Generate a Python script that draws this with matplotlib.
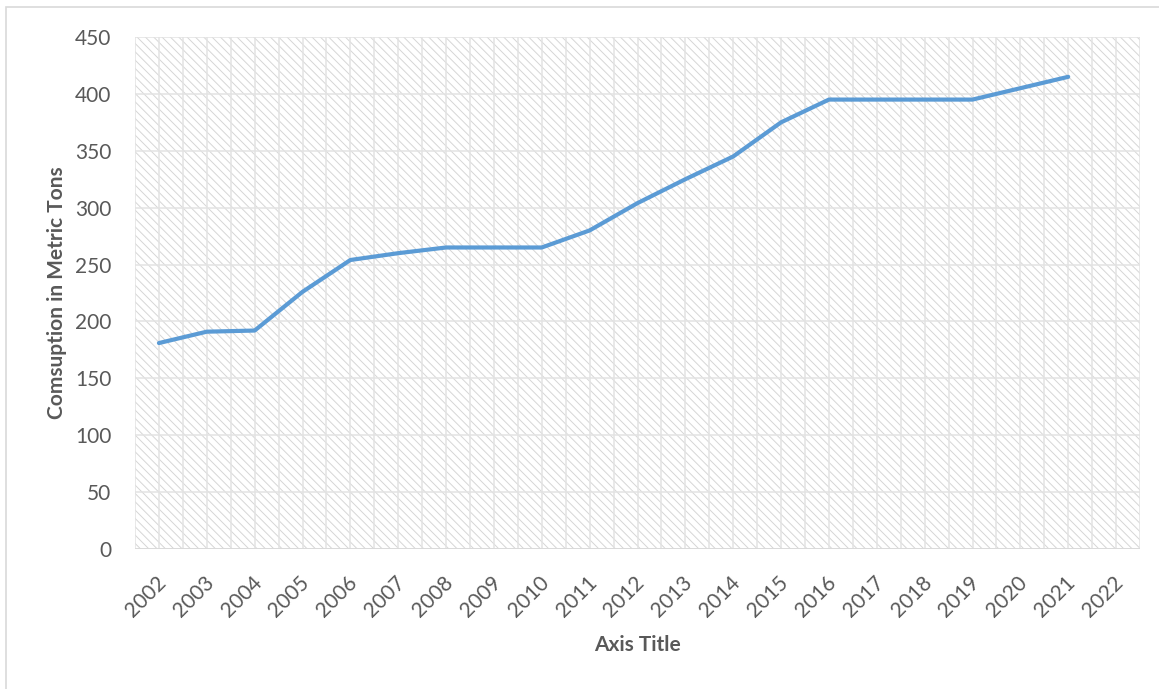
import matplotlib
matplotlib.use("Agg")
import matplotlib.pyplot as plt
from matplotlib.patches import Rectangle
from matplotlib.transforms import ScaledTranslation

# Annual consumption series
years = [str(y) for y in range(2002, 2023)]
consumption = [181, 191, 192, 226, 254, 260, 265, 265, 265, 280, 304,
               325, 345, 375, 395, 395, 395, 395, 405, 415, None]
y_ticks = [0, 50, 100, 150, 200, 250, 300, 350, 400, 450]

x_title = "Axis Title"
y_title = "Comsuption in Metric Tons"

plt.rcParams["font.family"] = ["Lato", "DejaVu Sans"]
plt.rcParams["hatch.color"] = "#d6d6d6"
plt.rcParams["hatch.linewidth"] = 0.7

W, H = 1159, 689
fig = plt.figure(figsize=(W / 100, H / 100), dpi=100)
fig.patch.set_facecolor("white")

# Light frame around the chart area (left and top edges visible)
fig.add_artist(Rectangle((6 / W, -0.5), 2.0, 1.5 - 7 / H,
                         transform=fig.transFigure, fill=False,
                         edgecolor="#d9d9d9", linewidth=1.2))

ax = fig.add_axes([135 / W, 1 - 549 / H, (1140 - 135) / W, (549 - 37) / H])
ax.set_facecolor("white")

# Diagonal hatched plot background
ax.add_patch(Rectangle((0, 0), 1, 1, transform=ax.transAxes,
                       facecolor="white", edgecolor="#d6d6d6",
                       hatch="\\\\\\\\", linewidth=0, zorder=0))

n = len(years)
xs = list(range(n))
ax.set_xlim(-0.5, n - 0.5)
ax.set_ylim(0, 450)

# Gridlines at each category and each category boundary
for i in range(2 * n + 1):
    gx = -0.5 + i * 0.5
    ax.axvline(gx, color="#e3e3e3", linewidth=1.1, zorder=1)
for v in y_ticks:
    ax.axhline(v, color="#e3e3e3", linewidth=1.1, zorder=1)

px = [x for x, v in zip(xs, consumption) if v is not None]
py = [v for v in consumption if v is not None]
ax.plot(px, py, color="#5B9BD5", linewidth=3.0, solid_capstyle="round",
        solid_joinstyle="round", zorder=3)

ax.axhline(0, color="#d9d9d9", linewidth=1.3, zorder=2)

for s in ax.spines.values():
    s.set_visible(False)

ax.set_yticks(y_ticks)
ax.set_yticklabels([str(v) for v in y_ticks])
ax.set_xticks(xs)
ax.set_xticklabels(years, rotation=45, ha="right", va="center",
                   rotation_mode="anchor")
ax.tick_params(axis="both", length=0, labelsize=15, labelcolor="#595959")
ax.tick_params(axis="y", pad=17)
ax.tick_params(axis="x", pad=22)
shift = ScaledTranslation(4 / 100, 0, fig.dpi_scale_trans)
for lbl in ax.get_xticklabels():
    lbl.set_transform(lbl.get_transform() + shift)

fig.text((135 + 1140) / 2 / W, 1 - 645 / H, x_title, ha="center",
         va="center", fontsize=15, fontweight="bold", color="#595959")
fig.text(57 / W, 1 - 293 / H, y_title, ha="center", va="center",
         rotation=90, fontsize=15, fontweight="bold", color="#595959")

fig.savefig("out.png", dpi=100)
